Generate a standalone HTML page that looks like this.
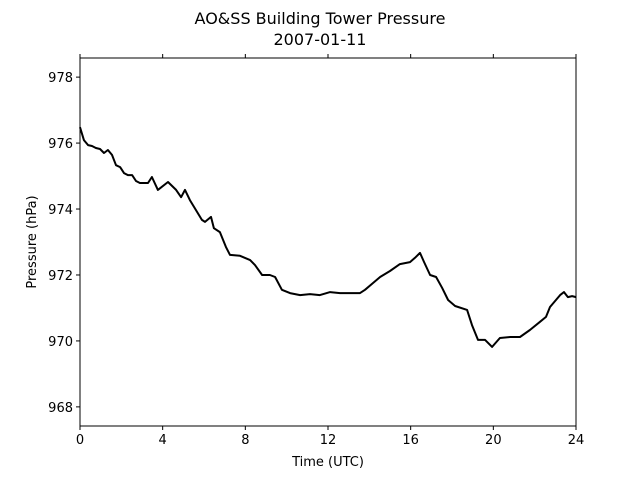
<!DOCTYPE html>
<html><head><meta charset="utf-8"><style>
body{margin:0;background:#fff;font-family:"Liberation Sans","DejaVu Sans",sans-serif;}
svg text{font-family:"DejaVu Sans","Liberation Sans",sans-serif;}
</style></head><body>
<svg id="chart" width="640" height="480" xmlns="http://www.w3.org/2000/svg">
<text x="320" y="24" text-anchor="middle" font-size="16">AO&amp;SS Building Tower Pressure</text>
<text x="320" y="45" text-anchor="middle" font-size="16">2007-01-11</text>
<g id="axes"></g>
<text x="328" y="466" text-anchor="middle" font-size="13">Time (UTC)</text>
<text transform="translate(36,242) rotate(-90)" text-anchor="middle" font-size="13">Pressure (hPa)</text>
</svg>
<script>
const times=[0,.19,.39,.58,.77,.97,1.16,1.35,1.55,1.74,1.94,2.13,2.32,2.52,2.71,2.9,3.1,3.29,3.48,3.77,4.26,4.65,4.89,5.08,5.32,5.61,5.9,6.05,6.34,6.48,6.77,7.06,7.26,7.74,8.23,8.47,8.81,9.19,9.44,9.77,10.16,10.65,11.13,11.61,12.1,12.58,13.06,13.55,13.79,14.13,14.52,15.0,15.48,15.97,16.21,16.45,16.65,16.94,17.23,17.52,17.81,18.15,18.73,18.97,19.26,19.6,19.94,20.32,20.81,21.29,21.77,22.26,22.55,22.74,23.23,23.42,23.61,23.81,24];
const pressure=[976.48,976.09,975.94,975.91,975.85,975.82,975.7,975.79,975.64,975.33,975.27,975.09,975.03,975.03,974.85,974.79,974.79,974.79,974.97,974.58,974.82,974.58,974.36,974.58,974.27,973.97,973.67,973.61,973.76,973.42,973.3,972.85,972.61,972.58,972.45,972.3,972.0,972.0,971.94,971.55,971.45,971.39,971.42,971.39,971.48,971.45,971.45,971.45,971.55,971.73,971.94,972.12,972.33,972.39,972.52,972.67,972.39,972.0,971.94,971.61,971.24,971.06,970.94,970.48,970.03,970.03,969.82,970.09,970.12,970.12,970.33,970.58,970.73,971.03,971.39,971.48,971.33,971.36,971.33];
const xTicks=[0,4,8,12,16,20,24];
const yTicks=[968,970,972,974,976,978];
const L=80,R=576,T=58,B=426,XMIN=0,XMAX=24,YMIN=967.42,YMAX=978.58;
const sx=v=>L+(v-XMIN)/(XMAX-XMIN)*(R-L);
const sy=v=>B-(v-YMIN)/(YMAX-YMIN)*(B-T);
const NS="http://www.w3.org/2000/svg";
const g=document.getElementById('axes');
function mk(t,a){const e=document.createElementNS(NS,t);for(const k in a)e.setAttribute(k,a[k]);g.appendChild(e);return e;}
let d=times.map((t,i)=>(i?'L':'M')+sx(t).toFixed(1)+','+sy(pressure[i]).toFixed(1)).join('');
const line=mk('path',{d:d,fill:'none',stroke:'#000','stroke-width':2,'stroke-linejoin':'round'});


const frame=mk('rect',{x:L,y:T,width:R-L,height:B-T,fill:'none',stroke:'#000','stroke-width':1});


xTicks.forEach(v=>{const x=sx(v);
 mk('line',{x1:x,x2:x,y1:B,y2:B+4,stroke:'#000'});
 mk('line',{x1:x,x2:x,y1:T,y2:T-4,stroke:'#000'});
 const t=mk('text',{x:x,y:B+18,'text-anchor':'middle','font-size':13});t.textContent=v;
 
 
});
yTicks.forEach(v=>{const y=sy(v);
 mk('line',{x1:L-4,x2:L,y1:y,y2:y,stroke:'#000'});
 const t=mk('text',{x:L-7,y:y+5,'text-anchor':'end','font-size':13});t.textContent=v;
 
 
});
</script>
</body></html>
